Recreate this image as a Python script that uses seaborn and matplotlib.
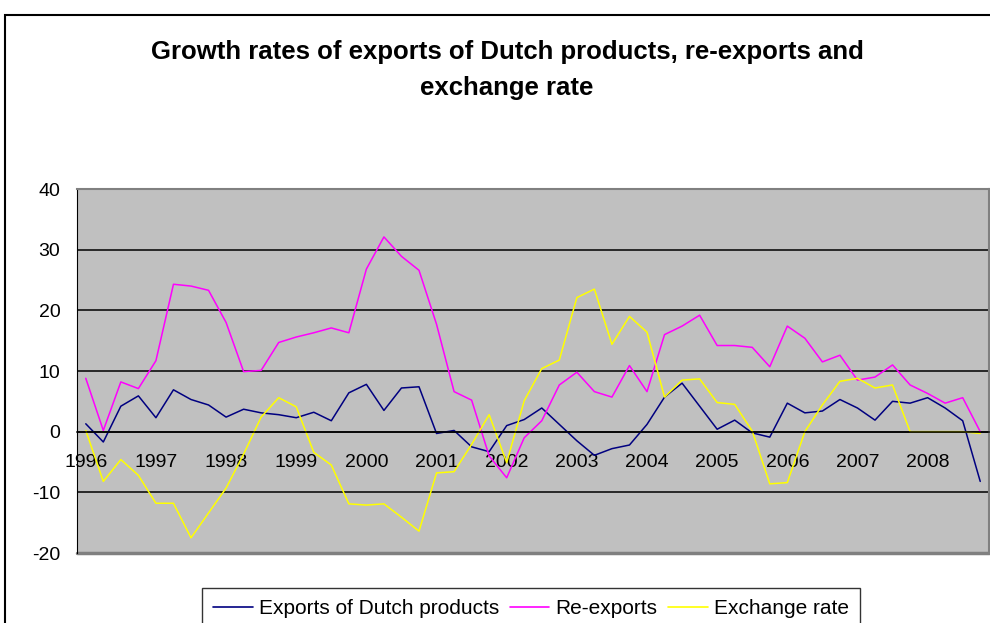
import seaborn as sns
import matplotlib.pyplot as plt
import matplotlib.patches as mpatches
import pandas as pd
import numpy as np

# quarterly growth rates, 1996Q1 - 2008Q4
years = list(range(1996, 2009))
quarters = [f"{y}Q{q}" for y in years for q in range(1, 5)]

exports_dutch = [1.3, -1.7, 4.2, 5.9, 2.3, 6.9, 5.3, 4.4, 2.4, 3.7, 3.1, 2.8,
                 2.3, 3.2, 1.8, 6.4, 7.8, 3.5, 7.2, 7.4, -0.3, 0.2, -2.5, -3.3,
                 1.0, 2.0, 3.9, 1.2, -1.5, -3.9, -2.8, -2.2, 1.2, 5.7, 8.0, 4.2,
                 0.4, 1.9, -0.2, -0.9, 4.7, 3.1, 3.4, 5.3, 3.9, 1.9, 5.0, 4.7,
                 5.6, 3.9, 1.8, -8.2]
re_exports = [8.8, 0.2, 8.2, 7.1, 11.7, 24.3, 24.0, 23.3, 18.0, 9.9, 10.1, 14.7,
              15.6, 16.3, 17.1, 16.3, 26.8, 32.1, 28.9, 26.6, 17.7, 6.6, 5.2, -4.0,
              -7.6, -1.0, 1.8, 7.7, 9.8, 6.6, 5.7, 10.9, 6.6, 16.0, 17.4, 19.2,
              14.2, 14.2, 13.9, 10.7, 17.4, 15.4, 11.5, 12.6, 8.5, 9.0, 11.0, 7.7,
              6.3, 4.7, 5.6, 0.0]
exchange_rate = [0.2, -8.2, -4.6, -7.2, -11.8, -11.8, -17.5, -13.4, -9.3, -3.7, 2.4, 5.6,
                 4.1, -3.4, -5.5, -11.9, -12.1, -11.9, -14.1, -16.4, -6.8, -6.6, -2.1, 2.8,
                 -5.1, 5.1, 10.4, 11.8, 22.1, 23.5, 14.4, 19.0, 16.4, 5.7, 8.5, 8.7,
                 4.8, 4.5, 0.1, -8.6, -8.4, 0.0, 4.4, 8.3, 8.8, 7.2, 7.7, 0.0,
                 0.0, 0.0, 0.0, -0.3]

series_names = ["Exports of Dutch products", "Re-exports", "Exchange rate"]
colors = ["#000080", "#FF00FF", "#FFFF00"]

df = pd.DataFrame({
    "idx": np.tile(np.arange(len(quarters)), 3),
    "value": exports_dutch + re_exports + exchange_rate,
    "series": np.repeat(series_names, len(quarters)),
})

sns.set_style("white")
plt.rcParams["font.family"] = ["Liberation Sans", "DejaVu Sans"]
plt.rcParams["axes.unicode_minus"] = False
plt.rcParams["text.color"] = "black"
plt.rcParams["xtick.color"] = "black"
plt.rcParams["ytick.color"] = "black"

fig = plt.figure(figsize=(9.9, 6.23), dpi=100)
ax = fig.add_axes([77 / 990, 1 - 553 / 623, 912 / 990, 364 / 623])
ax.set_facecolor("#C0C0C0")

sns.lineplot(data=df, x="idx", y="value", hue="series", palette=colors,
             linewidth=1.1, ax=ax, legend=False)

n = len(quarters)
ax.set_xlim(-0.5, n - 0.5)
ax.set_ylim(-20, 40)
ax.set_yticks(range(-20, 41, 10))
ax.yaxis.grid(True, color="black", linewidth=1.1)
ax.set_axisbelow(True)
ax.tick_params(axis="y", direction="out", length=5, width=1, color="black",
               labelsize=14, pad=7)

# category axis sits at zero, ticks between years, labels on first quarter
ax.spines["bottom"].set_position(("data", 0))
ax.spines["bottom"].set_color("black")
ax.spines["bottom"].set_linewidth(1.1)
ax.set_xticks(np.arange(3.5, n, 4))
ax.set_xticklabels([])
ax.set_xticks(np.arange(0, n, 4), minor=True)
ax.set_xticklabels([str(y) for y in years], minor=True)
ax.tick_params(axis="x", which="major", direction="out", length=5, width=1, color="black")
ax.tick_params(axis="x", which="minor", length=0, labelsize=14, pad=16)
ax.spines["left"].set_color("black")
for s in ["top", "right"]:
    ax.spines[s].set_color("#808080")
    ax.spines[s].set_linewidth(1.5)
ax.set_xlabel("")
ax.set_ylabel("")
ax.axhline(-20, color="#808080", linewidth=2.5, clip_on=False)

fig.text(507 / 990, 1 - 70 / 623,
         "Growth rates of exports of Dutch products, re-exports and\nexchange rate",
         ha="center", va="center", fontsize=18.5, fontweight="bold", linespacing=1.6)

handles = [plt.Line2D([], [], color=c, linewidth=1.2) for c in colors]
leg = fig.legend(handles, series_names, loc="upper center", ncol=3,
                 bbox_to_anchor=(531 / 990, 1 - 588 / 623), fontsize=15,
                 frameon=True, fancybox=False, edgecolor="black",
                 handlelength=1.9, handletextpad=0.3, columnspacing=0.5,
                 borderpad=0.55, borderaxespad=0)
leg.get_frame().set_linewidth(1.0)

fig.patches.append(mpatches.Rectangle((5 / 990, -0.1), 2, 1.1 - 15 / 623,
                                      transform=fig.transFigure, fill=False,
                                      edgecolor="black", linewidth=1.5))

fig.savefig("out.png", dpi=100)
